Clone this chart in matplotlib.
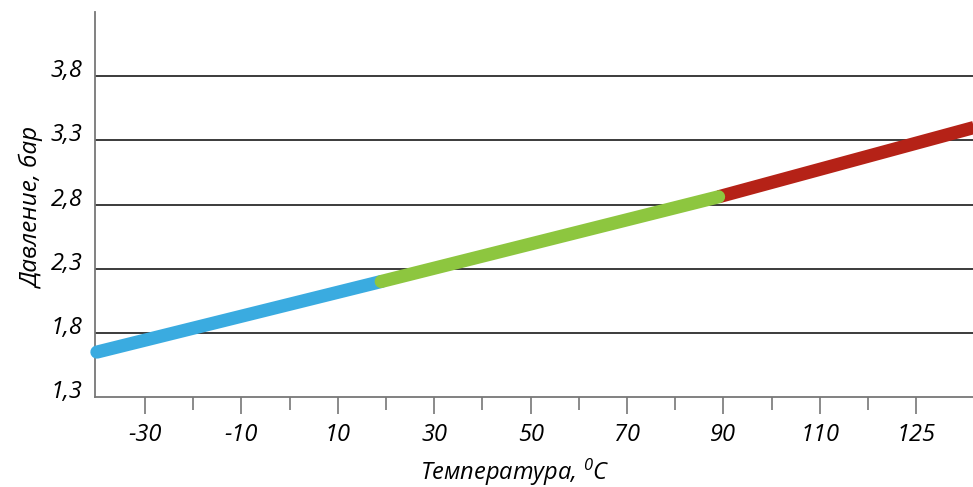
import matplotlib.pyplot as plt
import matplotlib.transforms as mtransforms

# pressure vs temperature, three segments
blue_t = [-40, 19]
blue_p = [1.65, 2.20]
green_t = [19, 89]
green_p = [2.20, 2.86]
red_t = [89, 142]
red_p = [2.86, 3.40]

y_ticks = [1.3, 1.8, 2.3, 2.8, 3.3, 3.8]
y_labels = ["1,3", "1,8", "2,3", "2,8", "3,3", "3,8"]
x_major = [-30, -10, 10, 30, 50, 70, 90, 110, 130]
x_labels = ["-30", "-10", "10", "30", "50", "70", "90", "110", "125"]
x_minor = [-20, 0, 20, 40, 60, 80, 100, 120]

plt.rcParams['font.family'] = ['Open Sans', 'DejaVu Sans']
plt.rcParams['mathtext.fontset'] = 'custom'
plt.rcParams['mathtext.rm'] = 'Open Sans:italic'
plt.rcParams['mathtext.it'] = 'Open Sans:italic'

fs = 17

fig = plt.figure(figsize=(9.73, 4.87), dpi=100)
ax = fig.add_axes([95 / 973, 1 - 397 / 487, 878 / 973, 385 / 487])

ax.set_xlim(-40.4, 141.8)
ax.set_ylim(1.3, 4.3)

for y in y_ticks[1:]:
    ax.axhline(y, color='#1a1a1a', lw=1.2, zorder=1)

lw = 9.5
ax.plot(blue_t, blue_p, color='#3aabe0', lw=lw, solid_capstyle='round', zorder=3, clip_on=False)
ax.plot(green_t, green_p, color='#8dc63f', lw=lw, solid_capstyle='round', zorder=4)
ax.plot(red_t, red_p, color='#b52217', lw=lw, solid_capstyle='butt', zorder=2)

for side in ['top', 'right']:
    ax.spines[side].set_visible(False)
for side in ['left', 'bottom']:
    ax.spines[side].set_color('#777777')
    ax.spines[side].set_linewidth(1.3)

ax.set_yticks(y_ticks)
ax.set_yticklabels(y_labels, fontsize=fs, style='italic')
ax.tick_params(axis='y', length=0, pad=9)
offset = mtransforms.ScaledTranslation(0, 8 / 100, fig.dpi_scale_trans)
for lab in ax.get_yticklabels():
    lab.set_transform(lab.get_transform() + offset)

ax.set_xticks(x_major)
ax.set_xticklabels(x_labels, fontsize=fs, style='italic')
ax.set_xticks(x_minor, minor=True)
ax.tick_params(axis='x', which='major', length=12.5, width=1.2, color='#777777', pad=6)
ax.tick_params(axis='x', which='minor', length=9, width=1.2, color='#777777')

fig.text(515 / 973, 1 - 472 / 487, 'Температура, $^{0}$C', ha='center', va='center',
         fontsize=fs, style='italic')
fig.text(33 / 973, 1 - 208 / 487, 'Давление, бар', ha='center', va='center',
         rotation=90, fontsize=fs + 0.5, style='italic')

fig.savefig('out.png', dpi=100)
